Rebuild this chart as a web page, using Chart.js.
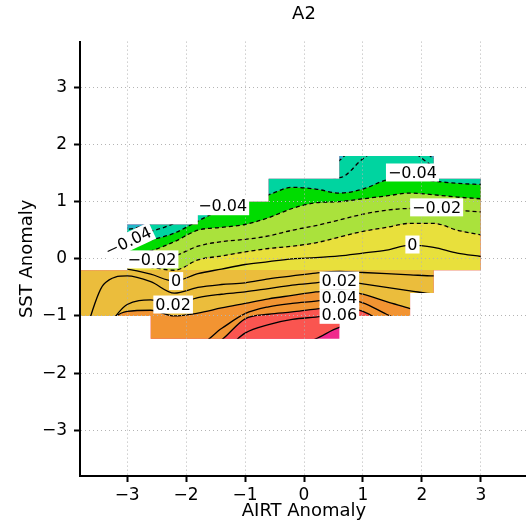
<!DOCTYPE html>
<html>
<head>
<meta charset="utf-8">
<script src="https://cdn.jsdelivr.net/npm/chart.js@4"></script>
<style>
  html, body { margin: 0; padding: 0; background: #fff; overflow: hidden; }
  #chart { display: block; width: 530px; height: 527px; }
</style>
</head>
<body>
<canvas id="chart" width="530" height="527"></canvas>
<script>
const xNodes = [-3.8, -3.4, -3.0, -2.6, -2.2, -1.8, -1.4, -1.0, -0.6, -0.2, 0.2, 0.6, 1.0, 1.4, 1.8, 2.2, 2.6, 3.0];
const levels = [-0.06, -0.05, -0.04, -0.03, -0.02, -0.01, 0, 0.01, 0.02, 0.03, 0.04, 0.05, 0.06, 0.07];

// SST anomaly (y) of each contour at xNodes
const cNeg06 = [0.50, 0.52, 0.52, 0.62, 0.80, 1.00, 1.20, 1.35, 1.60, 1.60, 1.62, 1.72, 2.20, 2.40, 2.20, 1.76, 1.70, 1.70];
const cNeg05 = [0.40, 0.42, 0.40, 0.48, 0.62, 0.85, 1.00, 1.20, 1.45, 1.45, 1.45, 1.42, 1.75, 2.00, 1.90, 1.62, 1.55, 1.50];
const cNeg04 = [0.25, 0.26, 0.25, 0.33, 0.45, 0.66, 0.86, 1.00, 1.12, 1.25, 1.22, 1.15, 1.22, 1.38, 1.42, 1.36, 1.32, 1.30];
const cNeg03 = [0.15, 0.10, 0.08, 0.14, 0.30, 0.50, 0.55, 0.60, 0.72, 0.88, 0.98, 1.00, 1.05, 1.10, 1.15, 1.12, 1.08, 1.05];
const cNeg02 = [0.05, 0.00, -0.05, 0.00, 0.05, 0.22, 0.30, 0.34, 0.40, 0.50, 0.58, 0.68, 0.78, 0.85, 0.88, 0.88, 0.85, 0.82];
const cNeg01 = [-0.05, -0.06, -0.12, -0.15, -0.20, -0.02, 0.05, 0.12, 0.18, 0.22, 0.28, 0.38, 0.48, 0.55, 0.62, 0.62, 0.50, 0.42];
const cZero  = [-0.15, -0.15, -0.18, -0.27, -0.39, -0.26, -0.18, -0.10, -0.05, 0.00, 0.02, 0.05, 0.10, 0.15, 0.24, 0.20, 0.10, 0.04];
const cPos01 = [-1.60, -0.45, -0.30, -0.40, -0.60, -0.50, -0.45, -0.42, -0.35, -0.30, -0.25, -0.22, -0.24, -0.26, -0.28, -0.30, -0.30, -0.30];
const cPos02 = [-2.00, -1.30, -0.80, -0.72, -0.80, -0.68, -0.62, -0.58, -0.52, -0.46, -0.42, -0.38, -0.44, -0.50, -0.56, -0.62, -0.65, -0.68];
const cPos03 = [-2.20, -1.25, -0.92, -0.90, -1.00, -0.95, -0.86, -0.78, -0.70, -0.64, -0.58, -0.54, -0.62, -0.75, -0.87, -1.00, -1.10, -1.20];
const cPos04 = [-2.40, -1.90, -1.60, -1.50, -1.48, -1.50, -1.22, -0.96, -0.84, -0.78, -0.74, -0.69, -0.77, -0.97, -1.15, -1.30, -1.40, -1.50];
const cPos05 = [-2.60, -2.20, -1.90, -1.80, -1.75, -1.65, -1.42, -1.05, -0.97, -0.93, -0.88, -0.85, -0.92, -1.15, -1.35, -1.50, -1.60, -1.70];
const cPos06 = [-2.80, -2.40, -2.10, -2.00, -1.95, -1.85, -1.65, -1.30, -1.15, -1.06, -1.02, -0.98, -1.05, -1.30, -1.50, -1.65, -1.75, -1.85];
const cPos07 = [-3.00, -2.60, -2.30, -2.20, -2.10, -2.00, -1.90, -1.80, -1.70, -1.55, -1.40, -1.20, -1.15, -1.45, -1.65, -1.80, -1.90, -2.00];
const contours = [cNeg06, cNeg05, cNeg04, cNeg03, cNeg02, cNeg01, cZero, cPos01, cPos02, cPos03, cPos04, cPos05, cPos06, cPos07];

// cells where the field has data
const cellX0 = [-3.8, -3.0, -2.6, -1.8, -1.0, -0.6, 0.6, 1.8, 2.2];
const cellX1 = [-3.0, -2.6, -1.8, -1.0, -0.6, 0.6, 1.8, 2.2, 3.0];
const cellY0 = [-1.0, -1.0, -1.4, -1.4, -1.4, -1.4, -1.0, -0.6, -0.2];
const cellY1 = [-0.2, 0.6, 0.6, 0.8, 1.0, 1.4, 1.8, 1.8, 1.4];

// contour labels
const labelText = ['\u22120.04', '\u22120.02', '0', '0.02', '\u22120.04', '0.02', '0.04', '0.06', '0', '\u22120.02', '\u22120.04'];
const labelX = [-2.98, -2.58, -2.17, -2.22, -1.38, 0.60, 0.60, 0.60, 1.84, 2.25, 1.84];
const labelY = [0.30, -0.01, -0.39, -0.80, 0.92, -0.38, -0.69, -0.98, 0.25, 0.90, 1.51];
const labelAngle = [-25, 0, 0, 0, 0, 0, 0, 0, 0, 0, 0];

const BLUE = '#22b6c8', TEAL = '#00d4a0', GREEN = '#00dc00', LGREEN = '#aae23c',
      YELLOW = '#e8e03c', GOLD = '#ebbd3c', ORANGE = '#f29432', RED = '#fa5550', PINK = '#f0288c';
const FONT = '"DejaVu Sans", sans-serif';

// yellow band switches to gold below SST = -0.2 like the source figure
function splitYellow(c) {
  const chart = c.chart;
  const area = chart.chartArea;
  if (!area || !chart.scales.y) return YELLOW;
  const yp = chart.scales.y.getPixelForValue(-0.2);
  const t = Math.min(1, Math.max(0, (yp - area.top) / (area.bottom - area.top)));
  const g = chart.ctx.createLinearGradient(0, area.top, 0, area.bottom);
  g.addColorStop(0, YELLOW); g.addColorStop(t, YELLOW);
  g.addColorStop(t, GOLD); g.addColorStop(1, GOLD);
  return g;
}
const bandColors = [BLUE, TEAL, TEAL, GREEN, LGREEN, LGREEN, splitYellow, splitYellow, GOLD, GOLD, ORANGE, ORANGE, RED, RED];

const toPoints = ys => xNodes.map((x, i) => ({ x: x, y: ys[i] }));

const datasets = [];
// filled bands
contours.forEach((ys, k) => {
  datasets.push({
    data: toPoints(ys),
    fill: k === 0 ? 'end' : '-1',
    backgroundColor: bandColors[k],
    borderWidth: 0,
    pointRadius: 0,
    cubicInterpolationMode: 'monotone',
    order: 1
  });
});
// contour lines
contours.forEach((ys, k) => {
  datasets.push({
    data: toPoints(ys),
    fill: false,
    borderColor: '#000',
    borderWidth: 1.3,
    borderDash: levels[k] < 0 ? [4, 3] : [],
    pointRadius: 0,
    cubicInterpolationMode: 'monotone',
    order: 0
  });
});

const maskPlugin = {
  id: 'mask',
  beforeDatasetsDraw(chart) {
    const { ctx, chartArea, scales: { x, y } } = chart;
    ctx.save();
    ctx.beginPath();
    for (let i = 0; i < cellX0.length; i++) {
      const l = x.getPixelForValue(cellX0[i]), r = x.getPixelForValue(cellX1[i]);
      const t = y.getPixelForValue(cellY1[i]), b = y.getPixelForValue(cellY0[i]);
      ctx.rect(l, t, r - l, b - t);
    }
    ctx.clip();
    ctx.fillStyle = PINK;
    ctx.fillRect(chartArea.left, chartArea.top, chartArea.width, chartArea.height);
  },
  afterDatasetsDraw(chart) {
    chart.ctx.restore();
  }
};

const labelPlugin = {
  id: 'contourLabels',
  afterDraw(chart) {
    const { ctx, scales: { x, y } } = chart;
    ctx.save();
    ctx.font = '16px ' + FONT;
    ctx.textAlign = 'center';
    ctx.textBaseline = 'middle';
    for (let i = 0; i < labelText.length; i++) {
      const px = x.getPixelForValue(labelX[i]), py = y.getPixelForValue(labelY[i]);
      const w = ctx.measureText(labelText[i]).width + 4;
      ctx.save();
      ctx.translate(px, py);
      ctx.rotate(labelAngle[i] * Math.PI / 180);
      ctx.fillStyle = '#fff';
      ctx.fillRect(-w / 2, -9, w, 18);
      ctx.fillStyle = '#000';
      ctx.fillText(labelText[i], 0, 1);
      ctx.restore();
    }
    ctx.restore();
  }
};

const tickFmt = v => (Number.isInteger(v) ? (v < 0 ? '\u2212' + Math.abs(v) : String(v)) : '');

const axisCommon = {
  type: 'linear',
  min: -3.8,
  max: 3.8,
  grid: { z: 1, color: '#b4b4b4', lineWidth: 1, drawTicks: true, tickLength: 6, tickColor: '#000', tickWidth: 2, tickBorderDash: [] },
  border: { display: true, color: '#000', width: 2, dash: [1, 3], z: 1 }
};

new Chart(document.getElementById('chart'), {
  type: 'line',
  data: { datasets: datasets },
  options: {
    responsive: false,
    animation: false,
    layout: { padding: { left: 0, right: 2, top: 0, bottom: 0 } },
    plugins: {
      legend: { display: false },
      tooltip: { enabled: false },
      filler: { propagate: false },
      title: { display: true, fullSize: false, text: 'A2', color: '#000', font: { family: FONT, size: 18, weight: 'normal' }, padding: { top: 4, bottom: 16 } }
    },
    scales: {
      x: Object.assign({}, axisCommon, {
        position: 'bottom',
        afterFit(s) { s.height = 51; },
        ticks: { stepSize: 1, includeBounds: false, maxRotation: 0, color: '#000', padding: 3, font: { family: FONT, size: 17 }, callback: tickFmt },
        title: { display: true, text: 'AIRT Anomaly', color: '#000', font: { family: FONT, size: 18 }, padding: { top: 0, bottom: 5 } }
      }),
      y: Object.assign({}, axisCommon, {
        position: 'left',
        afterFit(s) { s.width = 80; },
        ticks: { stepSize: 1, includeBounds: false, color: '#000', padding: 7, font: { family: FONT, size: 17 }, callback: tickFmt },
        title: { display: true, text: 'SST Anomaly', color: '#000', font: { family: FONT, size: 18 }, padding: { top: 17, bottom: 0 } }
      })
    }
  },
  plugins: [maskPlugin, labelPlugin]
});
</script>
</body>
</html>
